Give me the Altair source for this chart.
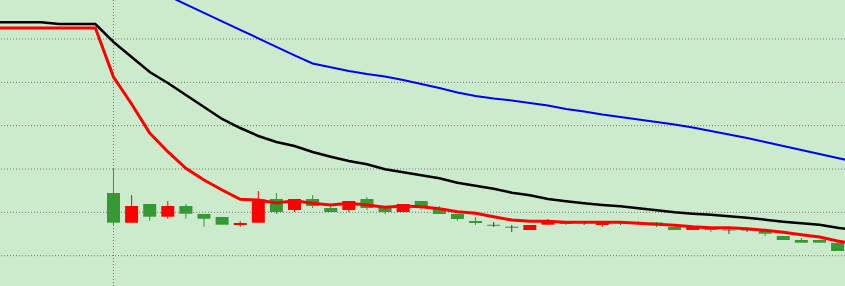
import altair as alt
import pandas as pd

# ---- data (price units) ----
candle_index = list(range(41))
opens  = [17.61, 21.46, 18.99, 21.46, 19.68, 18.53, 17.15, 17.54, 23.01, 20.08,
          23.08, 21.46, 20.08, 22.62, 21.00, 20.08, 21.92, 21.30, 19.62, 18.46,
          17.54, 17.01, 16.55, 17.08, 18.07, 17.31, 17.77, 17.84, 17.77, 17.31,
          17.19, 15.92, 16.85, 15.92, 15.92, 15.92, 15.07, 13.62, 12.99, 12.99, 11.08]
highs  = [30.16, 24.00, 21.92, 22.62, 21.92, 19.62, 18.92, 18.00, 24.92, 24.46,
          23.08, 24.00, 21.69, 22.62, 23.54, 21.23, 21.92, 22.62, 21.46, 19.62,
          18.92, 17.77, 17.08, 17.08, 18.46, 17.77, 18.00, 17.84, 18.00, 18.00,
          17.77, 16.62, 16.85, 16.38, 16.15, 16.15, 15.69, 14.54, 14.08, 13.62, 13.15]
lows   = [17.08, 17.61, 18.00, 18.53, 18.53, 16.68, 17.15, 16.68, 17.61, 19.62,
          20.08, 21.00, 20.08, 20.08, 20.54, 19.62, 20.08, 20.54, 19.62, 18.00,
          17.08, 16.62, 15.46, 15.92, 17.15, 17.08, 17.08, 16.62, 17.08, 17.31,
          16.62, 15.92, 15.92, 15.46, 15.00, 15.46, 14.54, 13.62, 12.99, 12.99, 11.08]
closes = [24.46, 17.61, 21.92, 18.99, 21.46, 19.62, 18.92, 17.08, 17.61, 23.08,
          20.54, 23.08, 21.00, 20.54, 23.08, 21.00, 20.08, 22.62, 21.00, 19.62,
          18.00, 17.01, 16.55, 15.92, 17.15, 17.77, 17.77, 17.08, 17.77, 17.77,
          17.65, 16.62, 15.92, 16.38, 15.92, 15.92, 15.69, 14.54, 13.62, 13.62, 12.92]

line_index = list(range(-7, 42))
black_ma = [63.85, 63.85, 63.85, 63.85, 63.46, 63.46, 63.46,
            59.31, 55.85, 52.38, 49.85, 47.08, 44.31, 41.54, 39.46, 37.62, 36.23,
            35.31, 33.92, 32.84, 31.85, 31.08, 29.93, 29.24, 28.55, 27.85, 26.84,
            26.15, 25.45, 24.53, 23.93, 23.08, 22.55, 22.08, 21.69, 21.39, 20.93,
            20.47, 20.01, 19.69, 19.45, 19.08, 18.76, 18.30, 17.84, 17.47, 17.15,
            16.45, 15.92]
red_ma = [62.54, 62.54, 62.54, 62.54, 62.54, 62.54, 62.54,
          51.23, 45.00, 38.31, 33.99, 30.16, 27.46, 25.15, 23.01, 22.85, 22.15,
          22.68, 22.08, 21.69, 22.08, 21.69, 21.16, 21.46, 21.30, 20.84, 20.15,
          19.78, 18.99, 18.23, 17.93, 17.93, 17.70, 17.70, 17.70, 17.70, 17.47,
          17.24, 17.01, 16.68, 16.45, 16.45, 16.22, 15.85, 15.39, 14.84, 14.31,
          13.38, 12.69]
blue_index = list(range(3, 42))
blue_ma = [69.97, 68.01, 66.05, 64.08, 62.12, 60.16, 58.20, 56.24, 54.35,
           53.47, 52.62, 51.92, 51.35, 50.54, 49.62, 48.69, 47.65, 46.85, 46.27,
           45.81, 45.23, 44.65, 43.85, 43.27, 42.58, 42.00, 41.42, 40.85, 40.27,
           39.58, 38.77, 37.96, 37.15, 36.23, 35.31, 34.38, 33.46, 32.54, 31.62]

grid_prices = [10, 20, 30, 40, 50, 60]
separator_index = [0]

# ---- tables ----
candles = pd.DataFrame({"i": candle_index, "open": opens, "high": highs,
                        "low": lows, "close": closes})
candles["dir"] = ["up" if c > o else ("down" if c < o else "flat")
                  for o, c in zip(opens, closes)]
lines = pd.DataFrame({"i": line_index, "black": black_ma, "red": red_ma})
blue = pd.DataFrame({"i": blue_index, "blue": blue_ma})
hgrid = pd.DataFrame({"p": grid_prices})
vgrid = pd.DataFrame({"i": separator_index})

xs = alt.Scale(domain=[-6.27, 40.41], nice=False, zero=False, padding=0)
ys = alt.Scale(domain=[3, 69], nice=False, zero=False, padding=0)
cs = alt.Scale(domain=["up", "down", "flat"], range=["#369936", "#ff0000", "#404040"])

X = alt.X("i:Q", scale=xs, axis=None)

hgrid_layer = alt.Chart(hgrid).mark_rule(color="#7a7a7a", strokeWidth=1,
                                         strokeDash=[1, 2]).encode(
    y=alt.Y("p:Q", scale=ys, axis=None))
vgrid_layer = alt.Chart(vgrid).mark_rule(color="#7a7a7a", strokeWidth=1,
                                         strokeDash=[1, 2]).encode(x=X)

base = alt.Chart(candles)
wicks = base.mark_rule(strokeWidth=1).encode(
    x=X,
    y=alt.Y("low:Q", scale=ys, axis=None),
    y2="high:Q",
    color=alt.Color("dir:N", scale=cs, legend=None),
)
bodies = base.transform_filter("datum.dir != 'flat'").mark_bar(size=13).encode(
    x=X,
    y=alt.Y("open:Q", scale=ys, axis=None),
    y2="close:Q",
    color=alt.Color("dir:N", scale=cs, legend=None),
)
dojis = base.transform_filter("datum.dir == 'flat'").mark_tick(
    size=13, thickness=1, orient="horizontal").encode(
    x=X,
    y=alt.Y("open:Q", scale=ys, axis=None),
    color=alt.Color("dir:N", scale=cs, legend=None),
)

black_line = alt.Chart(lines).mark_line(color="#000000", strokeWidth=2.5, clip=True).encode(
    x=X, y=alt.Y("black:Q", scale=ys, axis=None))
red_line = alt.Chart(lines).mark_line(color="#ff0000", strokeWidth=3, clip=True).encode(
    x=X, y=alt.Y("red:Q", scale=ys, axis=None))
blue_line = alt.Chart(blue).mark_line(color="#0000ff", strokeWidth=2, clip=True).encode(
    x=X, y=alt.Y("blue:Q", scale=ys, axis=None))

chart = alt.layer(hgrid_layer, vgrid_layer, wicks, bodies, dojis,
                  black_line, red_line, blue_line).properties(
    width=845, height=286, padding=0, autosize="none", background="#cceacc"
).configure_view(stroke=None, fill="#cceacc")

chart.save("out.html", embed_options={"renderer": "svg", "actions": False})
